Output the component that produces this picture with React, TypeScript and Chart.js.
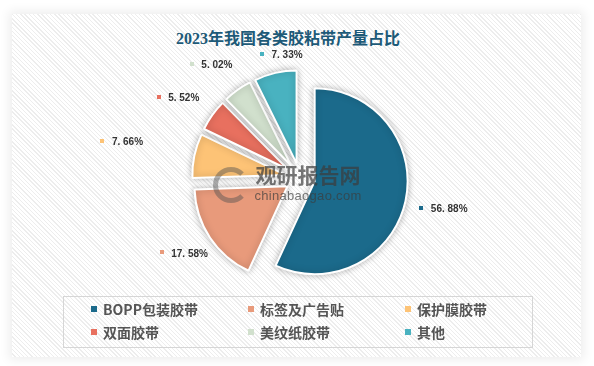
import React, { useEffect, useRef } from "react";
import { Chart, registerables } from "chart.js";
Chart.register(...registerables);

const titleText = "2023年我国各类胶粘带产量占比";
const categories = ["BOPP包装胶带", "标签及广告贴", "保护膜胶带", "双面胶带", "美纹纸胶带", "其他"];
const shares = [56.88, 17.58, 7.66, 5.52, 5.02, 7.33];
const colors = ["#1b6a8b", "#e89a7b", "#fdc376", "#e8705f", "#d1e0cd", "#49b2c0"];
const watermarkCn = "观研报告网";
const watermarkEn = "chinabaogao.com";

const fmt = (v: number) => v.toFixed(2).replace(".", ". ") + "%";

const explodePlugin = {
  id: "explode",
  beforeDatasetDraw(chart: any, args: any, opts: any) {
    const d = opts.distance || 0;
    const meta = chart.getDatasetMeta(args.index);
    meta.data.forEach((arc: any) => {
      const mid = (arc.startAngle + arc.endAngle) / 2;
      arc.x += Math.cos(mid) * d;
      arc.y += Math.sin(mid) * d;
    });
    const ctx = chart.ctx;
    ctx.save();
    ctx.shadowColor = "rgba(0,0,0,0.28)";
    ctx.shadowBlur = 7;
  },
  afterDatasetDraw(chart: any, args: any, opts: any) {
    const d = opts.distance || 0;
    const meta = chart.getDatasetMeta(args.index);
    meta.data.forEach((arc: any) => {
      const mid = (arc.startAngle + arc.endAngle) / 2;
      arc.x -= Math.cos(mid) * d;
      arc.y -= Math.sin(mid) * d;
    });
    chart.ctx.restore();
  },
};

const labelPlugin = {
  id: "sliceLabels",
  afterDatasetsDraw(chart: any, _args: any, opts: any) {
    const meta = chart.getDatasetMeta(0);
    const ctx = chart.ctx;
    const ca = chart.chartArea;
    const cx = (ca.left + ca.right) / 2;
    const cy = (ca.top + ca.bottom) / 2;
    ctx.save();
    meta.data.forEach((arc: any, i: number) => {
      const mid = (arc.startAngle + arc.endAngle) / 2 + (opts.angleShift[i] * Math.PI) / 180;
      const r = opts.radius[i];
      const x = cx + Math.cos(mid) * r;
      const y = cy + Math.sin(mid) * r;
      ctx.fillStyle = colors[i];
      ctx.fillRect(Math.round(x) - 2, Math.round(y) - 2, 4, 4);
      ctx.fillStyle = "#333333";
      ctx.font = "bold 10px 'Liberation Sans', Arial, sans-serif";
      ctx.textBaseline = "middle";
      ctx.textAlign = "left";
      ctx.fillText(fmt(shares[i]), x + 9.5, y + 1.5);
    });
    ctx.restore();
  },
};

export default function App() {
  const ref = useRef<HTMLCanvasElement | null>(null);
  useEffect(() => {
    if (!ref.current) return;
    const chart = new Chart(ref.current, {
      type: "pie",
      data: {
        labels: categories,
        datasets: [
          {
            data: shares,
            backgroundColor: colors,
            borderColor: "#ffffff",
            borderWidth: 2,
          },
        ],
      },
      options: {
        animation: false,
        responsive: true,
        maintainAspectRatio: false,
        radius: 93,
        layout: { padding: { left: 106, right: 100, top: 60, bottom: 70 } },
        plugins: {
          legend: { display: false },
          tooltip: { enabled: false },
          title: { display: false },
          explode: { distance: 15 },
          sliceLabels: {
            radius: [125, 157, 201, 163, 157, 130],
            angleShift: [1.5, 5.3, -1.3, -5.7, -8.1, -3.8],
          },
        } as any,
      } as any,
      plugins: [explodePlugin, labelPlugin],
    });
    return () => chart.destroy();
  }, []);

  const legendCols = [94, 251, 408];
  const legendRows = [309, 332];

  return (
    <div
      style={{
        position: "absolute",
        left: 0,
        top: 0,
        width: 594,
        height: 366,
        background: "#ffffff",
        overflow: "hidden",
        fontFamily: "'Noto Sans CJK SC', sans-serif",
      }}
    >
      <div
        style={{
          position: "absolute",
          left: 12,
          top: 14,
          width: 569,
          height: 343,
          background:
            "repeating-linear-gradient(45deg, #ffffff 0px, #ffffff 2px, #ededed 2px, #ededed 3px)",
          boxShadow: "0 0 10px 3px rgba(0,0,0,0.07)",
        }}
      />
      <div
        style={{
          position: "absolute",
          left: 176,
          top: 28,
          width: 200,
          textAlign: "center",
          fontSize: 16,
          lineHeight: "22px",
          fontWeight: 700,
          color: "#1d5a78",
          whiteSpace: "nowrap",
          fontFamily: "'Liberation Serif', 'Noto Sans CJK SC', serif",
        }}
      >
        {titleText}
      </div>
      <div style={{ position: "absolute", left: 0, top: 0, width: 594, height: 366 }}>
        <canvas ref={ref} />
      </div>
      <div
        style={{
          position: "absolute",
          left: 248,
          top: 160,
          width: 120,
          textAlign: "center",
          color: "rgba(60,60,60,0.7)",
          pointerEvents: "none",
        }}
      >
        <div style={{ fontSize: 21, fontWeight: 700, lineHeight: "28px", letterSpacing: 0 }}>{watermarkCn}</div>
        <div
          style={{
            fontSize: 13,
            lineHeight: "16px",
            fontFamily: "'Liberation Sans', Arial, sans-serif",
            letterSpacing: 0.3,
          }}
        >
          {watermarkEn}
        </div>
      </div>
      <div
        style={{
          position: "absolute",
          left: 213,
          top: 167,
          width: 26,
          height: 26,
          borderRadius: "50%",
          border: "5px solid rgba(80,80,80,0.45)",
          borderRightColor: "transparent",
          pointerEvents: "none",
        }}
      />
      <div
        style={{
          position: "absolute",
          left: 63,
          top: 296,
          width: 468,
          height: 50,
          border: "1px solid #d6d6d6",
        }}
      />
      {categories.map((c, i) => {
        const x = legendCols[i % 3];
        const y = legendRows[Math.floor(i / 3)];
        return (
          <React.Fragment key={c}>
            <div
              style={{
                position: "absolute",
                left: x - 3,
                top: y - 3,
                width: 6,
                height: 6,
                background: colors[i],
              }}
            />
            <div
              style={{
                position: "absolute",
                left: x + 9,
                top: y - 10,
                fontSize: 14,
                lineHeight: "20px",
                fontWeight: 700,
                color: "#555555",
                whiteSpace: "nowrap",
              }}
            >
              {c}
            </div>
          </React.Fragment>
        );
      })}
    </div>
  );
}
